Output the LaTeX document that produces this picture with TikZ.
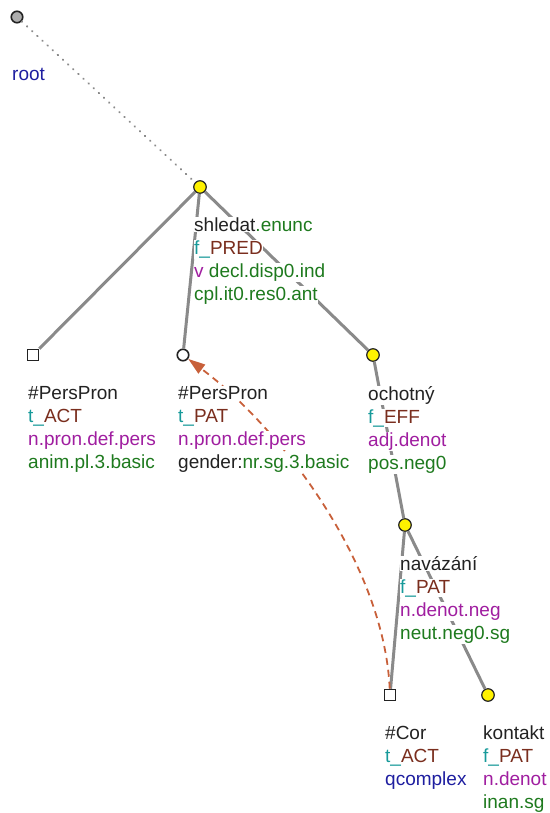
\documentclass[tikz,border=0pt]{standalone}
\usepackage{fontspec}
\setmainfont{Liberation Sans}
\usetikzlibrary{arrows.meta}
\definecolor{tinta}{HTML}{222222}
\definecolor{cerceta}{HTML}{179A9A}
\definecolor{ladrillo}{HTML}{7A2E1E}
\definecolor{morado}{HTML}{A01EA0}
\definecolor{verde}{HTML}{1E7A1E}
\definecolor{anil}{HTML}{1E1EA0}
\definecolor{arista}{HTML}{8A8A8A}
\definecolor{coref}{HTML}{C8603A}
\setlength{\fboxsep}{0.5pt}
\newcommand{\fila}[1]{\colorbox{white}{#1}}
\newcommand{\fun}[2]{\textcolor{cerceta}{#1\_}\textcolor{ladrillo}{#2}}
\tikzset{
  every picture/.style={font=\fontsize{19}{23}\selectfont, >=Stealth},
  uzel/.style={circle, draw=tinta, fill=yellow, line width=1.2pt, minimum size=12.5pt, inner sep=0pt},
  prazdny/.style={circle, draw=tinta, fill=white, line width=1.6pt, minimum size=11.5pt, inner sep=0pt},
  koren/.style={circle, draw=tinta, fill=arista!70, line width=1.6pt, minimum size=11.5pt, inner sep=0pt},
  ctverec/.style={rectangle, draw=tinta, fill=white, line width=1.6pt, minimum size=11pt, inner sep=0pt},
  hrana/.style={draw=arista, line width=3pt},
  vazba/.style={draw=arista, line width=2pt, line cap=round, dash pattern=on 0.5pt off 6.5pt},
  enlace/.style={-{Triangle[length=17pt, width=11pt]}, coref, line width=1.8pt, dash pattern=on 7pt off 5pt},
  popis/.style={anchor=north west, inner sep=0pt, align=left, text=tinta},
}
\begin{document}
\begin{tikzpicture}[x=1pt, y=-1pt]
  \useasboundingbox (0,0) rectangle (549,813);
  % uzly
  \node[koren] (root) at (17,17) {};
  \node[uzel] (shledat) at (200,187) {};
  \node[ctverec] (persact) at (33,355) {};
  \node[prazdny] (perspat) at (183,355) {};
  \node[uzel] (ochotny) at (373,355) {};
  \node[uzel] (navazani) at (405,525) {};
  \node[ctverec] (cor) at (390,695) {};
  \node[uzel] (kontakt) at (488,695) {};
  % hrany
  \draw[vazba] (root) -- (shledat);
  \draw[hrana] (shledat) -- (persact);
  \draw[hrana] (shledat) -- (perspat);
  \draw[hrana] (shledat) -- (ochotny);
  \draw[hrana] (ochotny) -- (navazani);
  \draw[hrana] (navazani) -- (cor);
  \draw[hrana] (navazani) -- (kontakt);
  % koreference
  \draw[enlace] (cor) .. controls +(-6,-130) and +(100,75) .. (perspat);
  % popisky
  \node[anchor=base west, inner sep=0pt, text=anil] (root-t) at (12,81) {root};
  \node[popis] (shledat-t) at (193.5,217) {\fila{shledat\textcolor{verde}{.enunc}}\\
    \fila{\fun{f}{PRED}}\\ \fila{\textcolor{morado}{v} \textcolor{verde}{decl.disp0.ind}}\\
    \fila{\textcolor{verde}{cpl.it0.res0.ant}}};
  \node[popis] (persact-t) at (27.5,385.5) {\fila{\#PersPron}\\ \fila{\fun{t}{ACT}}\\
    \fila{\textcolor{morado}{n.pron.def.pers}}\\ \fila{\textcolor{verde}{anim.pl.3.basic}}};
  \node[popis] (perspat-t) at (177.5,385.5) {\fila{\#PersPron}\\ \fila{\fun{t}{PAT}}\\
    \fila{\textcolor{morado}{n.pron.def.pers}}\\ \fila{gender:\textcolor{verde}{nr.sg.3.basic}}};
  \node[popis] (ochotny-t) at (367.5,385.5) {\fila{ochotný}\\ \fila{\fun{f}{EFF}}\\
    \fila{\textcolor{morado}{adj.denot}}\\ \fila{\textcolor{verde}{pos.neg0}}};
  \node[popis] (navazani-t) at (399.5,555.5) {\fila{navázání}\\ \fila{\fun{f}{PAT}}\\
    \fila{\textcolor{morado}{n.denot.neg}}\\ \fila{\textcolor{verde}{neut.neg0.sg}}};
  \node[popis] (cor-t) at (384.5,725.5) {\fila{\#Cor}\\ \fila{\fun{t}{ACT}}\\
    \fila{\textcolor{anil}{qcomplex}}};
  \node[popis] (kontakt-t) at (482.5,725.5) {\fila{kontakt}\\ \fila{\fun{f}{PAT}}\\
    \fila{\textcolor{morado}{n.denot}}\\ \fila{\textcolor{verde}{inan.sg}}};
\end{tikzpicture}
\end{document}
